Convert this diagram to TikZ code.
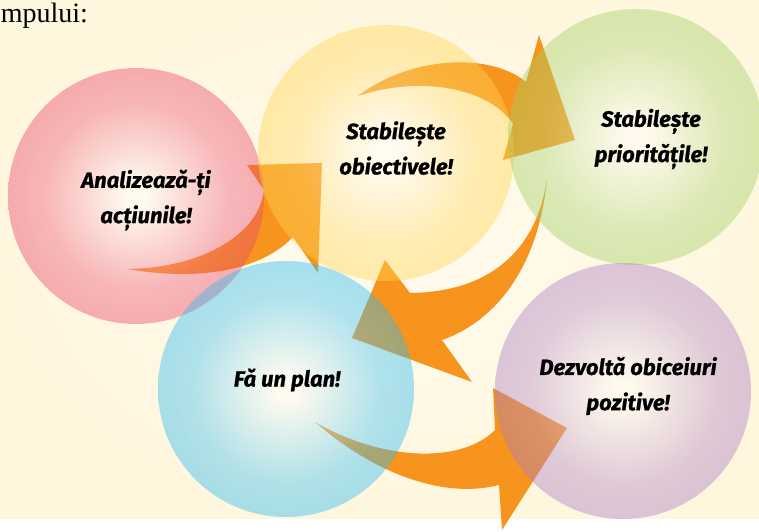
\documentclass[tikz,border=0pt]{standalone}
\usepackage{fontspec}
\usepackage{tikz}
\newfontfamily\labelfont{Fira Sans}[BoldItalicFeatures={FakeBold=0.8}]
\newfontfamily\headfont{Liberation Serif}

\definecolor{bgcream}{RGB}{255,246,222}
\definecolor{bgcenter}{RGB}{255,251,238}
\definecolor{arroworange}{RGB}{247,148,29}
\definecolor{bubblered}{RGB}{230,30,75}
\definecolor{bubbleyellow}{RGB}{255,205,45}
\definecolor{bubblegreen}{RGB}{142,198,70}
\definecolor{bubbleblue}{RGB}{0,174,239}
\definecolor{bubblepurple}{RGB}{152,98,185}

\colorlet{glowcol}{bubblered}
\pgfdeclareradialshading[glowcol]{glow}{\pgfpoint{0bp}{0bp}}{color(0bp)=(white); color(2bp)=(white); color(18bp)=(glowcol!72!white); color(36bp)=(glowcol); color(50bp)=(glowcol)}
\tikzset{glow color/.code={\colorlet{glowcol}{#1}}}

\begin{document}
\begin{tikzpicture}[x=0.75pt,y=-0.75pt]
		\tikzstyle{bubble}=[circle, minimum size=192pt, inner sep=0pt, fill opacity=0.42, shading=glow]
		\tikzstyle{arrowbody}=[fill=arroworange]
		\tikzstyle{caption}=[align=center, inner sep=0pt, text=black, font=\labelfont\bfseries\itshape\fontsize{16.5}{26.5}\selectfont]

		\useasboundingbox (0,0) rectangle (759,531);
		\shade[inner color=bgcenter, outer color=bgcream] (0,0) rectangle (759,518);
		\node[anchor=base west, inner sep=0pt, font=\headfont\fontsize{21}{24}\selectfont] (heading) at (0.5,23) {mpului:};

		\fill[arrowbody] (127,269) .. controls (210,283) and (265,266) .. (293,237) -- (318,273) -- (322,163) -- (247,165) -- (264,190) .. controls (260,232) and (205,268) .. (127,269) -- cycle;
		\fill[arrowbody] (358,96) .. controls (410,56) and (490,52) .. (526,82) -- (539,35) -- (575,140) -- (503,160) -- (513,124) .. controls (490,88) and (420,75) .. (358,96) -- cycle;
		\fill[arrowbody] (547,178) .. controls (540,260) and (500,320) .. (442,340) -- (472,382) -- (352,338) -- (385,260) -- (410,293) .. controls (495,292) and (538,245) .. (547,178) -- cycle;
		\fill[arrowbody] (315,422) .. controls (370,470) and (440,500) .. (499,485) -- (502,530) -- (567,428) -- (493,388) -- (495,430) .. controls (460,465) and (380,460) .. (315,422) -- cycle;

		\node[bubble, glow color=bubblered] (analiza) at (136,196) {};
		\node[bubble, glow color=bubbleyellow] (obiective) at (386,153) {};
		\node[bubble, glow color=bubblegreen] (prioritati) at (636,137) {};
		\node[bubble, glow color=bubbleblue] (plan) at (286,389) {};
		\node[bubble, glow color=bubblepurple] (obiceiuri) at (623,391) {};

		\node[caption] (txt-analiza) at (146,200) {Analizează-ți\\acțiunile!};
		\node[caption] (txt-obiective) at (396,148) {Stabilește\\obiectivele!};
		\node[caption] (txt-prioritati) at (651,139) {Stabilește\\prioritățile!};
		\node[caption] (txt-plan) at (287,380) {Fă un plan!};
		\node[caption] (txt-obiceiuri) at (628,386) {Dezvoltă obiceiuri\\pozitive!};
	\end{tikzpicture}
\end{document}
